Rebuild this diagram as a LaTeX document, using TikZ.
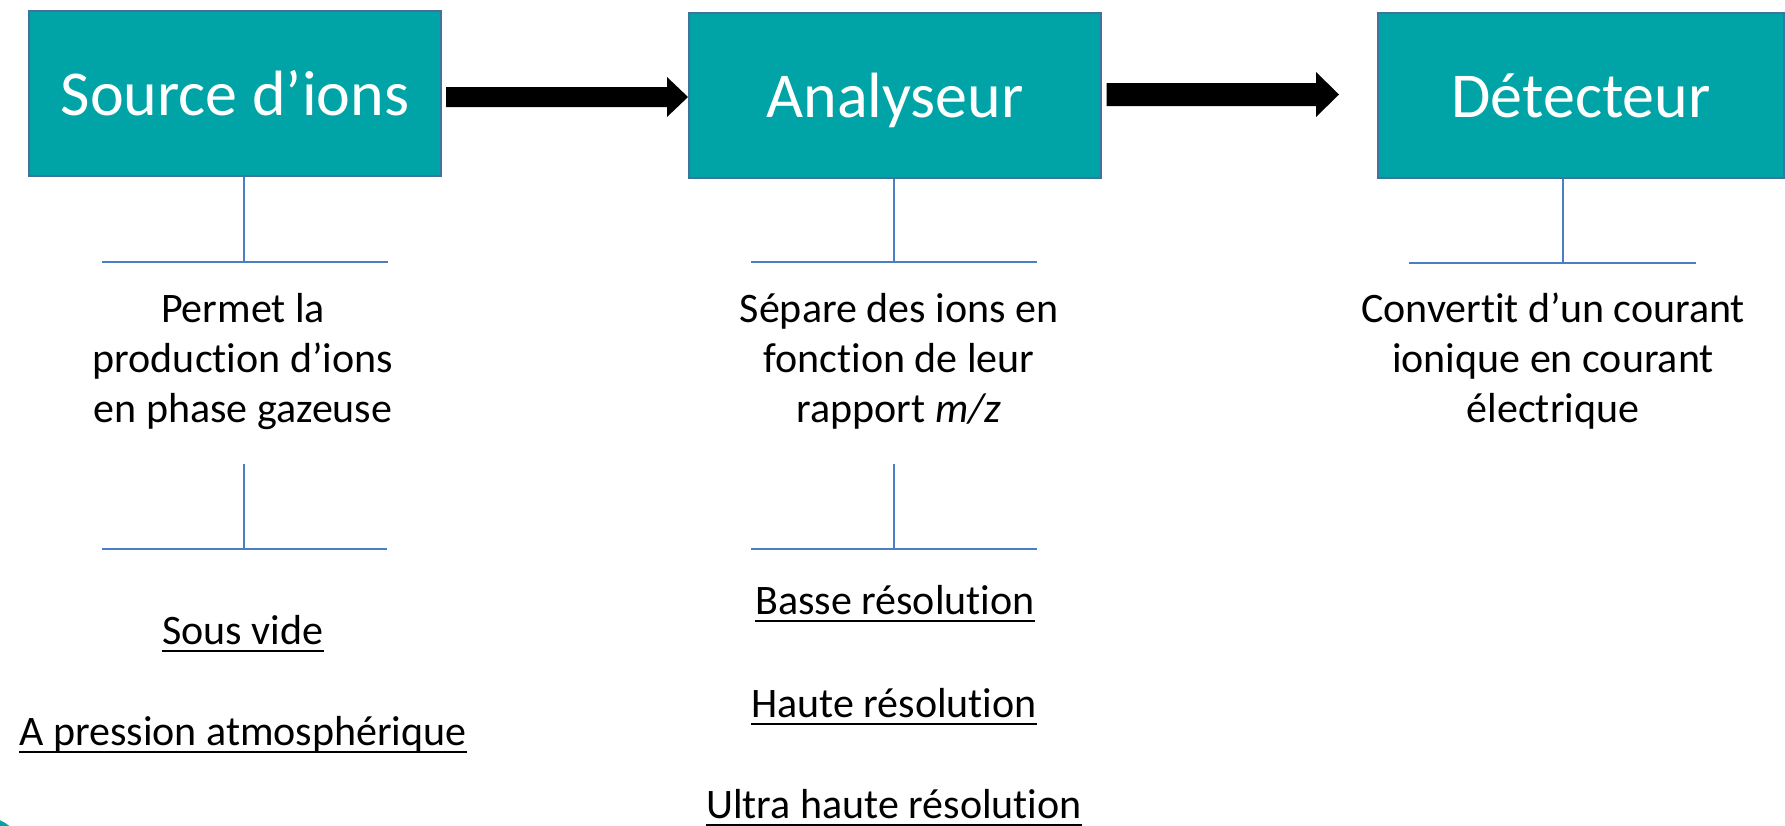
\documentclass[tikz,border=0pt]{standalone}
\usepackage{fontspec}
\setmainfont{Carlito}[RawFeature={-liga}]
\usetikzlibrary{calc}

\definecolor{stagefill}{HTML}{00A4A6}
\definecolor{stageedge}{HTML}{41719C}
\definecolor{treeblue}{HTML}{4A7EC7}

% block arrow: start, tip, half shaft height, half head height, head length
\newcommand\flowarrow[5]{%
  \fill ($(#1)+(0,-#3)$) -- ($(#2)+(-#5,-#3)$) -- ($(#2)+(-#5,-#4)$) -- (#2)
        -- ($(#2)+(-#5,#4)$) -- ($(#2)+(-#5,#3)$) -- ($(#1)+(0,#3)$) -- cycle;}

\begin{document}
\begin{tikzpicture}[x=1pt,y=-1pt,
  stage/.style={draw=stageedge, line width=2pt, fill=stagefill, minimum height=165pt,
    inner sep=0pt, text=white, font=\fontsize{64}{77}\selectfont,
    text height=44pt, text depth=0pt},
  tree/.style={draw=treeblue, line width=1.8pt},
  note/.style={font=\fontsize{42}{50}\selectfont, anchor=base, inner sep=0pt},
  uline/.style={line width=2.5pt}]
\useasboundingbox (0,0) rectangle (1785,825);
\fill[white] (0,0) rectangle (1785,825);

% corner ornament
\fill[stagefill] (-12,850) circle (32);

% the three stages
\node[stage, minimum width=412pt] (src) at (235,93.5) {Source d’ions};
\node[stage, minimum width=412pt] (ana) at (895,95) {Analyseur};
\node[stage, minimum width=406pt] (det) at (1581,95.5) {Détecteur};

% flow arrows
\coordinate (a1s) at ($(src.east)+(4,3.5)$);
\coordinate (a1e) at ($(ana.west)+(0,2)$);
\coordinate (a2s) at ($(ana.east)+(4.5,-0.5)$);
\coordinate (a2e) at ($(det.west)+(-38,-1)$);
\flowarrow{a1s}{a1e}{10}{20}{21}
\flowarrow{a2s}{a2e}{11.5}{22.5}{23}

% ---- ion source ----
\coordinate (srcJ) at (244,262);
\coordinate (srcL) at (102,262);
\coordinate (srcR) at (388,262);
\draw[tree] (src.south -| srcJ) -- (srcJ);
\draw[tree] (srcL) -- (srcR);
\node[note] (srcD1) at (243,322) {Permet la};
\node[note] (srcD2) at (243,372) {production d’ions};
\node[note] (srcD3) at (243,422) {en phase gazeuse};
\coordinate (srcK) at (244,464);
\coordinate (srcM) at (244,549);
\coordinate (srcL2) at (102,549);
\coordinate (srcR2) at (387,549);
\draw[tree] (srcK) -- (srcM);
\draw[tree] (srcL2) -- (srcR2);
\node[note] (vide) at (243,644) {Sous vide};
\node[note] (atmo) at (243,745) {A pression atmosphérique};
\foreach \n in {vide,atmo}
  \draw[uline] ([yshift=-7pt]\n.base west) -- ([yshift=-7pt]\n.base east);

% ---- analyser ----
\coordinate (anaJ) at (894,262);
\coordinate (anaL) at (751,262);
\coordinate (anaR) at (1037,262);
\draw[tree] (ana.south -| anaJ) -- (anaJ);
\draw[tree] (anaL) -- (anaR);
\node[note] (anaD1) at (899,322) {Sépare des ions en};
\node[note] (anaD2) at (899,372) {fonction de leur};
\node[note] (anaD3) at (899,422) {rapport \textit{m/z}};
\coordinate (anaK) at (894,464);
\coordinate (anaM) at (894,549);
\coordinate (anaL2) at (751,549);
\coordinate (anaR2) at (1037,549);
\draw[tree] (anaK) -- (anaM);
\draw[tree] (anaL2) -- (anaR2);
\node[note] (basse) at (895,614) {Basse résolution};
\node[note] (haute) at (894,717) {Haute résolution};
\node[note] (ultra) at (894,818) {Ultra haute résolution};
\foreach \n in {basse,haute,ultra}
  \draw[uline] ([yshift=-7pt]\n.base west) -- ([yshift=-7pt]\n.base east);

% ---- detector ----
\coordinate (detJ) at (1563,263);
\coordinate (detL) at (1409,263);
\coordinate (detR) at (1696,263);
\draw[tree] (det.south -| detJ) -- (detJ);
\draw[tree] (detL) -- (detR);
\node[note] (detD1) at (1553,322) {Convertit d’un courant};
\node[note] (detD2) at (1553,372) {ionique en courant};
\node[note] (detD3) at (1553,422) {électrique};
\end{tikzpicture}
\end{document}
